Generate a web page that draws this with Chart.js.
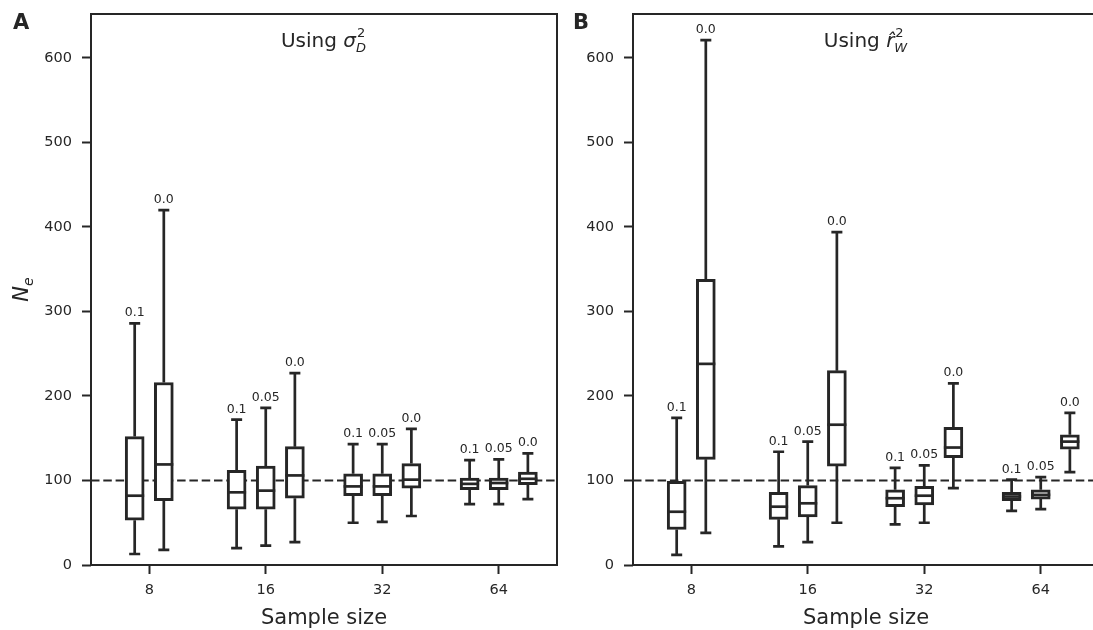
<!DOCTYPE html>
<html>
<head>
<meta charset="utf-8">
<script src="https://cdn.jsdelivr.net/npm/chart.js@4.4.1/dist/chart.umd.min.js"></script>
<style>
html, body { margin:0; padding:0; background:#fff; overflow:hidden; }
#wrap { position:relative; width:1093px; height:630px; overflow:hidden; }
canvas { position:absolute; top:0; }
</style>
</head>
<body>
<div id="wrap">
  <canvas id="chartA" width="560" height="630" style="left:0px"></canvas>
  <canvas id="chartB" width="545" height="630" style="left:560px"></canvas>
</div>
<script>
// x categories and hue levels
var sampleSizes = [8, 16, 32, 64];
var thresholds = ['0.1', '0.05', '0.0'];
var trueNe = 100;
var yMax = 652;

// each entry: [lower whisker, q1, median, q3, upper whisker], null = not drawn
// panel A, using sigma_D^2
var sigmaD_01  = [[13, 53, 82, 152, 286], [20, 66, 86, 112, 172], [50, 82, 93, 108, 143], [72, 89, 96, 103, 124]];
var sigmaD_005 = [null,                    [23, 66, 88, 117, 186], [51, 82, 93, 108, 143], [72, 89, 97, 103, 125]];
var sigmaD_00  = [[18, 76, 119, 216, 420], [27, 79, 106, 140, 227], [58, 91, 101, 120, 161], [78, 95, 102, 110, 132]];
// panel B, using r_W^2
var rW_01  = [[12, 42, 63, 99, 174], [22, 54, 69, 86, 134], [48, 69, 79, 89, 115], [64, 76, 81, 86, 101]];
var rW_005 = [null,                  [27, 57, 73, 94, 146], [50, 71, 82, 93, 118], [66, 78, 83, 89, 104]];
var rW_00  = [[38, 125, 238, 338, 621], [50, 117, 166, 230, 394], [91, 127, 139, 163, 215], [110, 137, 146, 154, 180]];

var ink = '#262626';
var FONT = "'DejaVu Sans'";
var slot = 0.25;

function buildSets(series){
	var sets = thresholds.map(function(t){
		return {
			label: t, data: [],
			backgroundColor: '#ffffff', borderColor: ink, borderWidth: 3,
			borderSkipped: false, barThickness: 19, grouped: false
		};
	});
	sampleSizes.forEach(function(n, i){
		var present = [];
		series.forEach(function(s, h){ if( s[i] ) present.push(h); });
		present.forEach(function(h, k){
			var st = series[h][i];
			var off = (k - (present.length - 1) / 2) * slot;
			sets[h].data.push({ x: i + off, y: [st[1], st[3]], low: st[0], med: st[2], high: st[4] });
		});
	});
	return sets;
}

// whiskers + reference line under the boxes, medians + labels over them
var boxPlugin = {
	id: 'boxDeco',
	beforeDatasetsDraw: function(chart){
		var ctx = chart.ctx, xs = chart.scales.x, ys = chart.scales.y, a = chart.chartArea;
		ctx.save();
		ctx.strokeStyle = ink;
		ctx.lineWidth = 2.2;
		ctx.setLineDash([8.5, 3.8]);
		var yr = ys.getPixelForValue(trueNe);
		ctx.beginPath(); ctx.moveTo(a.left, yr); ctx.lineTo(a.right, yr); ctx.stroke();
		ctx.setLineDash([]);
		ctx.lineWidth = 2.7;
		chart.data.datasets.forEach(function(ds){
			ds.data.forEach(function(d){
				var px = xs.getPixelForValue(d.x);
				var yl = ys.getPixelForValue(d.low), y1 = ys.getPixelForValue(d.y[0]);
				var y3 = ys.getPixelForValue(d.y[1]), yh = ys.getPixelForValue(d.high);
				ctx.beginPath();
				ctx.moveTo(px, yl); ctx.lineTo(px, y1);
				ctx.moveTo(px, y3); ctx.lineTo(px, yh);
				ctx.moveTo(px - 5.5, yl); ctx.lineTo(px + 5.5, yl);
				ctx.moveTo(px - 5.5, yh); ctx.lineTo(px + 5.5, yh);
				ctx.stroke();
			});
		});
		ctx.restore();
	},
	afterDatasetsDraw: function(chart){
		var ctx = chart.ctx, xs = chart.scales.x, ys = chart.scales.y, a = chart.chartArea;
		ctx.save();
		ctx.strokeStyle = ink;
		ctx.fillStyle = ink;
		ctx.lineWidth = 2.7;
		ctx.font = "12.5px " + FONT;
		ctx.textAlign = 'center';
		ctx.textBaseline = 'alphabetic';
		chart.data.datasets.forEach(function(ds){
			ds.data.forEach(function(d){
				var px = xs.getPixelForValue(d.x);
				var ym = ys.getPixelForValue(d.med);
				ctx.beginPath(); ctx.moveTo(px - 9.5, ym); ctx.lineTo(px + 9.5, ym); ctx.stroke();
				ctx.fillText(ds.label, px, ys.getPixelForValue(d.high) - 7);
			});
		});
		ctx.lineWidth = 2;
		ctx.strokeRect(a.left, a.top, a.right - a.left, a.bottom - a.top);
		ctx.restore();
	},
	afterDraw: function(chart, args, opts){
		var ctx = chart.ctx, a = chart.chartArea;
		ctx.save();
		ctx.fillStyle = ink;
		ctx.textBaseline = 'alphabetic';
		// panel letter
		ctx.font = "bold 21px " + FONT;
		ctx.textAlign = 'left';
		ctx.fillText(opts.letter, opts.letterX, 29);
		// title with sub/superscript
		var base = 'Using ';
		ctx.font = "20px " + FONT; var w1 = ctx.measureText(base).width;
		ctx.font = "italic 20px " + FONT; var w2 = ctx.measureText(opts.sym).width;
		ctx.font = "13px " + FONT; var w3 = ctx.measureText('2').width;
		ctx.font = "italic 13px " + FONT; var w4 = ctx.measureText(opts.sub).width;
		var total = w1 + w2 + 1 + Math.max(w3, w4);
		var x = (a.left + a.right) / 2 - total / 2, by = 47;
		ctx.font = "20px " + FONT; ctx.fillText(base, x, by);
		ctx.font = "italic 20px " + FONT; ctx.fillText(opts.sym, x + w1, by);
		ctx.font = "13px " + FONT; ctx.fillText('2', x + w1 + w2 + 1, by - 10);
		ctx.font = "italic 13px " + FONT; ctx.fillText(opts.sub, x + w1 + w2, by + 5);
		// y axis title N_e
		if( opts.yTitle ){
			ctx.translate(28, (a.top + a.bottom) / 2);
			ctx.rotate(-Math.PI / 2);
			ctx.font = "italic 21px " + FONT; var wn = ctx.measureText('N').width;
			ctx.font = "italic 14px " + FONT; var we = ctx.measureText('e').width;
			var sx = -(wn + we) / 2;
			ctx.font = "italic 21px " + FONT; ctx.fillText('N', sx, 0);
			ctx.font = "italic 14px " + FONT; ctx.fillText('e', sx + wn, 5);
		}
		ctx.restore();
	}
};

function makeChart(id, series, yWidth, padRight, deco){
	return new Chart(document.getElementById(id), {
		type: 'bar',
		data: { datasets: buildSets(series) },
		plugins: [boxPlugin],
		options: {
			responsive: false,
			animation: false,
			layout: { padding: { top: 14, right: padRight, left: 0, bottom: 0 } },
			plugins: { legend: { display: false }, tooltip: { enabled: false }, boxDeco: deco },
			scales: {
				x: {
					type: 'linear', min: -0.5, max: 3.5, offset: false,
					afterBuildTicks: function(s){ s.ticks = sampleSizes.map(function(v, i){ return { value: i }; }); },
					afterFit: function(s){ s.height = 65; s.paddingLeft = 0; s.paddingRight = 0; },
					ticks: { callback: function(v){ return String(sampleSizes[v]); }, color: ink, font: { family: FONT, size: 14.5 }, padding: 8, maxRotation: 0 },
					grid: { display: true, offset: false, drawOnChartArea: false, drawTicks: true, tickLength: 9, tickWidth: 2, tickColor: ink },
					border: { display: false },
					title: { display: true, text: 'Sample size', color: ink, font: { family: FONT, size: 21 }, padding: { top: 0, bottom: -1 } }
				},
				y: {
					min: 0, max: yMax,
					afterFit: function(s){ s.width = yWidth; s.paddingTop = 0; s.paddingBottom = 0; },
					ticks: { stepSize: 100, includeBounds: false, color: ink, font: { family: FONT, size: 14.5 }, padding: 10 },
					grid: { display: true, drawOnChartArea: false, drawTicks: true, tickLength: 9, tickWidth: 2, tickColor: ink },
					border: { display: false }
				}
			}
		}
	});
}

makeChart('chartA', [sigmaD_01, sigmaD_005, sigmaD_00], 91, 3,
	{ letter: 'A', letterX: 13, sym: '\u03c3', sub: 'D', yTitle: true });
makeChart('chartB', [rW_01, rW_005, rW_00], 73, 6,
	{ letter: 'B', letterX: 13, sym: 'r\u0302', sub: 'W', yTitle: false });
</script>
</body>
</html>
